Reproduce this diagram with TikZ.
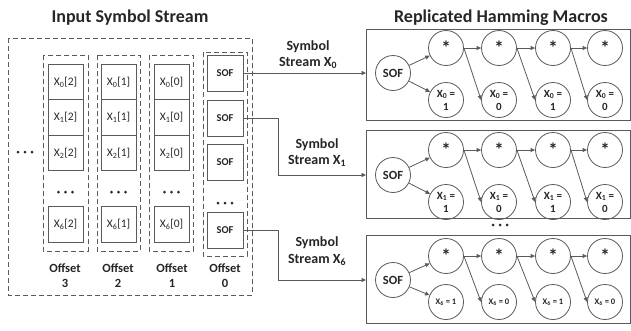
\documentclass[tikz,border=0pt]{standalone}
\usepackage{fontspec}
\setmainfont{Carlito}
\usetikzlibrary{arrows.meta}
\definecolor{ln}{HTML}{5A5A5A}
\definecolor{tx}{HTML}{262626}
\newcommand{\Xs}[1]{X\textsubscript{#1}}
\begin{document}
\begin{tikzpicture}[x=1pt,y=-1pt,
  dbox/.style={draw=ln, dash pattern=on 5pt off 3pt, line width=1pt},
  cell/.style={draw=ln, line width=0.9pt, minimum width=35pt, minimum height=35.5pt, inner sep=0pt, font=\fontsize{11.5}{12}\selectfont, text=tx},
  sofcell/.style={cell, minimum width=36pt, minimum height=36pt, font=\fontsize{10.5}{12}\selectfont\bfseries},
  title/.style={font=\fontsize{18}{20}\selectfont\bfseries, text=tx},
  lab/.style={font=\fontsize{12.5}{14}\selectfont\bfseries, text=tx, inner sep=0pt},
  slab/.style={font=\fontsize{14}{16}\selectfont\bfseries, text=tx, inner sep=0pt},
  mbox/.style={draw=ln, line width=1pt},
  circ/.style={circle, draw=ln, line width=0.8pt, minimum size=35pt, inner sep=0pt, font=\fontsize{11}{13}\selectfont\bfseries, align=center, text=tx},
  sofc/.style={circ, font=\fontsize{12.5}{13}\selectfont\bfseries},
  star/.style={circ, font=\fontsize{19}{19}\selectfont\bfseries},
  bsmall/.style={circ, font=\fontsize{8.5}{9}\selectfont\bfseries},
  arr/.style={draw=ln, line width=0.8pt, -{Triangle[length=4.5pt,width=4pt]}},
  dotfill/.style={fill=tx}
]
\useasboundingbox (0,0) rectangle (631,330);

% titles
\node[title] (t1) at (130,18) {Input Symbol Stream};
\node[title] (t2) at (501,18) {Replicated Hamming Macros};

% outer dashed box
\draw[dbox] (8,38) rectangle (252,295);
% column dashed boxes
\draw[dbox] (43,55) rectangle (88,251);
\draw[dbox] (97,55) rectangle (140,251);
\draw[dbox] (149,55) rectangle (193,251);
\draw[dbox] (203,52) rectangle (247,256);

% left dots
\foreach \x in {18,25,32} \fill[dotfill] (\x,152) circle (1.5);

% data columns
\foreach \c/\x/\o in {3/65.5/2, 2/118.5/1, 1/171.5/0}{
  \node[cell] (c\c r0) at (\x,82) {\Xs{0}[\o]};
  \node[cell] (c\c r1) at (\x,117.5) {\Xs{1}[\o]};
  \node[cell] (c\c r2) at (\x,153) {\Xs{2}[\o]};
  \node[cell] (c\c r6) at (\x,224.5) {\Xs{6}[\o]};
  \foreach \d in {-7,0,7} \fill[dotfill] (\x+\d,192) circle (1.5);
}
% SOF column
\node[sofcell] (s0) at (225,73) {SOF};
\node[sofcell] (s1) at (225,118) {SOF};
\node[sofcell] (s2) at (225,162) {SOF};
\node[sofcell] (s6) at (225,230) {SOF};
\foreach \d in {-7,0,7} \fill[dotfill] (225+\d,203) circle (1.5);

% offsets
\foreach \x/\n in {65/3,118/2,172/1,225/0}{
  \node[lab] (off\n) at (\x,268) {Offset};
  \node[lab] (num\n) at (\x,283) {\n};
}

% macro boxes
\draw[mbox] (366,29) rectangle (630.5,120);
\draw[mbox] (366,130) rectangle (630.5,218);
\draw[mbox] (366,235) rectangle (630.5,323);
\coordinate (in0) at (366,73);
\coordinate (in1) at (366,175);
\coordinate (in6) at (366,280);
\foreach \d in {-7,0,7} \fill[dotfill] (500+\d,225) circle (1.5);

% stream arrows
\coordinate (k1) at (278,118);
\coordinate (k1b) at (278,175);
\coordinate (k6) at (278,230);
\coordinate (k6b) at (278,280);
\draw[arr] (s0.east) -- (in0);
\draw[arr] (s1.east) -- (k1) -- (k1b) -- (in1);
\draw[arr] (s6.east) -- (k6) -- (k6b) -- (in6);

\node[slab] (l0a) at (308,47) {Symbol};
\node[slab] (l0b) at (308,63) {Stream \Xs{0}};
\node[slab] (l1a) at (317,145) {Symbol};
\node[slab] (l1b) at (317,161) {Stream \Xs{1}};
\node[slab] (l6a) at (317,243) {Symbol};
\node[slab] (l6b) at (317,260) {Stream \Xs{6}};

% macros
\foreach \m/\y in {0/73, 1/175}{
  \node[sofc] (m\m sof) at (393,\y) {SOF};
  \node[star] (m\m a1) at (446,\y-25) {*};
  \node[star] (m\m a2) at (499,\y-25) {*};
  \node[star] (m\m a3) at (553,\y-25) {*};
  \node[star] (m\m a4) at (605,\y-25) {*};
  \node[circ] (m\m b1) at (446,\y+27) {\Xs{\m} =\\1};
  \node[circ] (m\m b2) at (499,\y+27) {\Xs{\m} =\\0};
  \node[circ] (m\m b3) at (553,\y+27) {\Xs{\m} =\\1};
  \node[circ] (m\m b4) at (605,\y+27) {\Xs{\m} =\\0};
}
\node[sofc] (m6sof) at (393,280) {SOF};
\node[star] (m6a1) at (446,256) {*};
\node[star] (m6a2) at (499,256) {*};
\node[star] (m6a3) at (553,256) {*};
\node[star] (m6a4) at (605,256) {*};
\node[bsmall] (m6b1) at (446,302) {\Xs{6} = 1};
\node[bsmall] (m6b2) at (499,302) {\Xs{6} = 0};
\node[bsmall] (m6b3) at (553,302) {\Xs{6} = 1};
\node[bsmall] (m6b4) at (605,302) {\Xs{6} = 0};

\foreach \m in {0,1,6}{
  \draw[arr] (m\m sof) -- (m\m a1);
  \draw[arr] (m\m sof) -- (m\m b1);
  \foreach \i/\j in {1/2,2/3,3/4}{
    \draw[arr] (m\m a\i.east) -- (m\m a\j.west);
    \draw[arr] (m\m a\i.east) -- (m\m b\j.west);
  }
}
\end{tikzpicture}
\end{document}
